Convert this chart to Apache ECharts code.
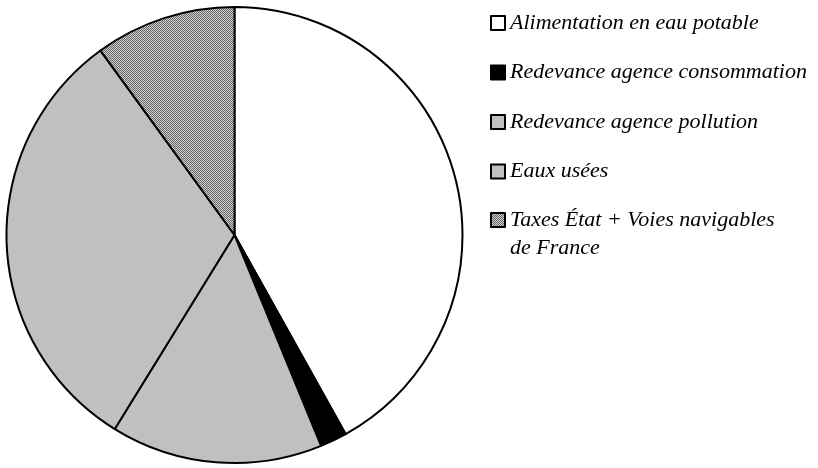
<!DOCTYPE html>
<html>
<head>
<meta charset="utf-8">
<script src="https://cdn.jsdelivr.net/npm/echarts@6/dist/echarts.min.js"></script>
<style>
html,body{margin:0;padding:0;background:#fff;}
#main{width:818px;height:468px;}
</style>
</head>
<body>
<div id="main"></div>
<script>
const categories = [
  'Alimentation en eau potable',
  'Redevance agence consommation',
  'Redevance agence pollution',
  'Eaux usées',
  'Taxes État + Voies navigables\nde France'
];
const values = [41.9, 1.9, 15.0, 31.2, 10.0];

function makePattern() {
  const c = document.createElement('canvas');
  c.width = 2; c.height = 2;
  const g = c.getContext('2d');
  g.fillStyle = '#d2d2d2'; g.fillRect(0, 0, 2, 2);
  g.fillStyle = '#646464'; g.fillRect(0, 0, 1, 1); g.fillRect(1, 1, 1, 1);
  return { image: c, repeat: 'repeat' };
}
const fills = ['#ffffff', '#000000', '#c0c0c0', '#c0c0c0', makePattern()];

const chart = echarts.init(document.getElementById('main'), null, { renderer: 'canvas' });
const font = { fontFamily: 'Liberation Serif', fontStyle: 'italic', fontSize: 22, color: '#000', lineHeight: 28 };
const legendCommon = {
  orient: 'vertical',
  left: 490,
  padding: 0,
  icon: 'rect',
  itemWidth: 14,
  itemHeight: 14,
  itemGap: 21.5,
  selectedMode: false,
  itemStyle: { borderColor: '#000', borderWidth: 2 },
  textStyle: font
};
chart.setOption({
  animation: false,
  backgroundColor: '#fff',
  legend: [
    Object.assign({}, legendCommon, { top: 9, data: categories.slice(0, 4) }),
    Object.assign({}, legendCommon, {
      top: 178,
      data: categories.slice(4),
      formatter: function (name) { return '\u00a0\n' + name; }
    })
  ],
  series: [{
    type: 'pie',
    center: [234.5, 235],
    radius: 228,
    startAngle: 90,
    clockwise: true,
    avoidLabelOverlap: false,
    label: { show: false },
    labelLine: { show: false },
    emphasis: { disabled: true },
    itemStyle: { borderColor: '#000', borderWidth: 2 },
    data: categories.map((n, i) => ({ name: n, value: values[i], itemStyle: { color: fills[i] } }))
  }]
});
</script>
</body>
</html>
